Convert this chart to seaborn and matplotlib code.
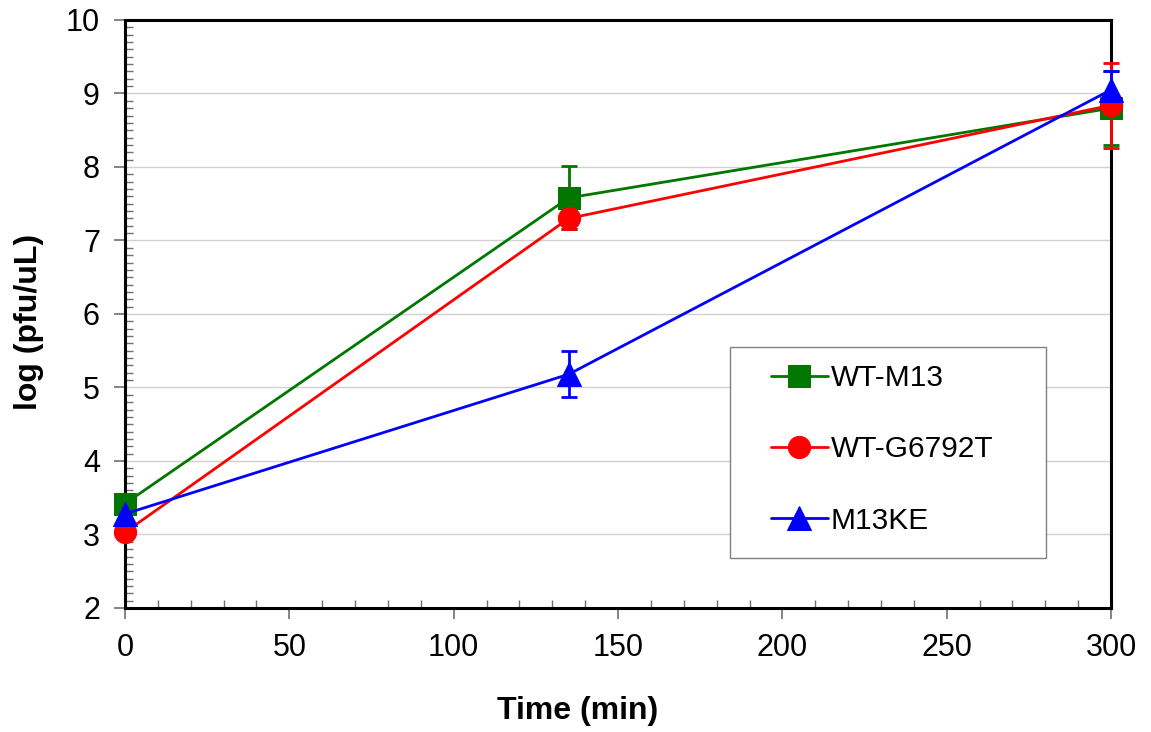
import numpy as np
import pandas as pd
import matplotlib
matplotlib.use("Agg")
import matplotlib.pyplot as plt
import seaborn as sns
from matplotlib.ticker import MultipleLocator
from matplotlib.patches import Rectangle

# data
time_min = [0, 135, 300]
series_names = ["WT-M13", "WT-G6792T", "M13KE"]
wt_m13 = [3.42, 7.58, 8.80]
wt_m13_err = [0.0, 0.43, 0.50]
wt_g6792t = [3.03, 7.30, 8.84]
wt_g6792t_err = [0.0, 0.15, 0.58]
m13ke = [3.28, 5.18, 9.05]
m13ke_err = [0.0, 0.31, 0.25]

colors = {"WT-M13": "#007700", "WT-G6792T": "#ff0000", "M13KE": "#0000ff"}
markers = {"WT-M13": "s", "WT-G6792T": "o", "M13KE": "^"}
msizes = {"WT-M13": 16, "WT-G6792T": 16, "M13KE": 17}

df = pd.DataFrame({
    "time": time_min * 3,
    "value": wt_m13 + wt_g6792t + m13ke,
    "err": wt_m13_err + wt_g6792t_err + m13ke_err,
    "series": [s for s in series_names for _ in time_min],
})

sns.set_style("white")
plt.rcParams["font.family"] = ["Liberation Sans", "DejaVu Sans"]
plt.rcParams["text.color"] = "black"
plt.rcParams["axes.labelcolor"] = "black"
plt.rcParams["xtick.labelcolor"] = "black"
plt.rcParams["ytick.labelcolor"] = "black"

fig = plt.figure(figsize=(11.51, 7.32), dpi=100)
ax = fig.add_axes([0.1086, 0.1694, 0.8567, 0.8033])

# error bars first, lines/markers on top
for name in series_names:
    d = df[df["series"] == name]
    ax.errorbar(d["time"], d["value"], yerr=d["err"], fmt="none",
                ecolor=colors[name], elinewidth=2.0, capsize=6, capthick=2.0,
                zorder=3, clip_on=False)

for name in series_names:
    d = df[df["series"] == name]
    sns.lineplot(data=d, x="time", y="value", ax=ax, color=colors[name],
                 marker=markers[name], markersize=msizes[name],
                 markeredgecolor=colors[name], linewidth=2.0,
                 label=name, zorder=4, clip_on=False)

ax.set_xlim(0, 300)
ax.set_ylim(2, 10)
ax.xaxis.set_major_locator(MultipleLocator(50))
ax.xaxis.set_minor_locator(MultipleLocator(10))
ax.yaxis.set_major_locator(MultipleLocator(1))
ax.yaxis.set_minor_locator(MultipleLocator(0.1))

ax.yaxis.grid(True, which="major", color="#d0d0d0", linewidth=1.0)
ax.xaxis.grid(False)
ax.set_axisbelow(True)

for sp in ax.spines.values():
    sp.set_color("black")
    sp.set_linewidth(2.2)

ax.tick_params(axis="both", which="major", direction="out", length=8,
               width=1.2, color="#707070", labelsize=22, pad=10)
ax.tick_params(axis="both", which="minor", direction="in", length=6,
               width=1.0, color="#707070")
ax.tick_params(bottom=True, left=True, which="both")

ax.set_xlabel("Time (min)", fontsize=23, fontweight="bold", labelpad=24)
ax.set_ylabel("log (pfu/uL)", fontsize=23, fontweight="bold", labelpad=16)
ax.xaxis.label.set_x(0.459)
ax.yaxis.label.set_y(0.486)

# legend box drawn separately so the padding matches the reference
box = Rectangle((0.614, 0.085), 0.320, 0.359, transform=ax.transAxes,
                facecolor="white", edgecolor="#808080", linewidth=1.0,
                zorder=5)
ax.add_patch(box)
leg = ax.legend(loc="upper left", bbox_to_anchor=(0.655, 0.415),
                fontsize=21.5, frameon=False, handlelength=1.9,
                handletextpad=0.1, labelspacing=1.45, borderpad=0,
                borderaxespad=0)
leg.set_zorder(6)

fig.savefig("out.png", dpi=100)
